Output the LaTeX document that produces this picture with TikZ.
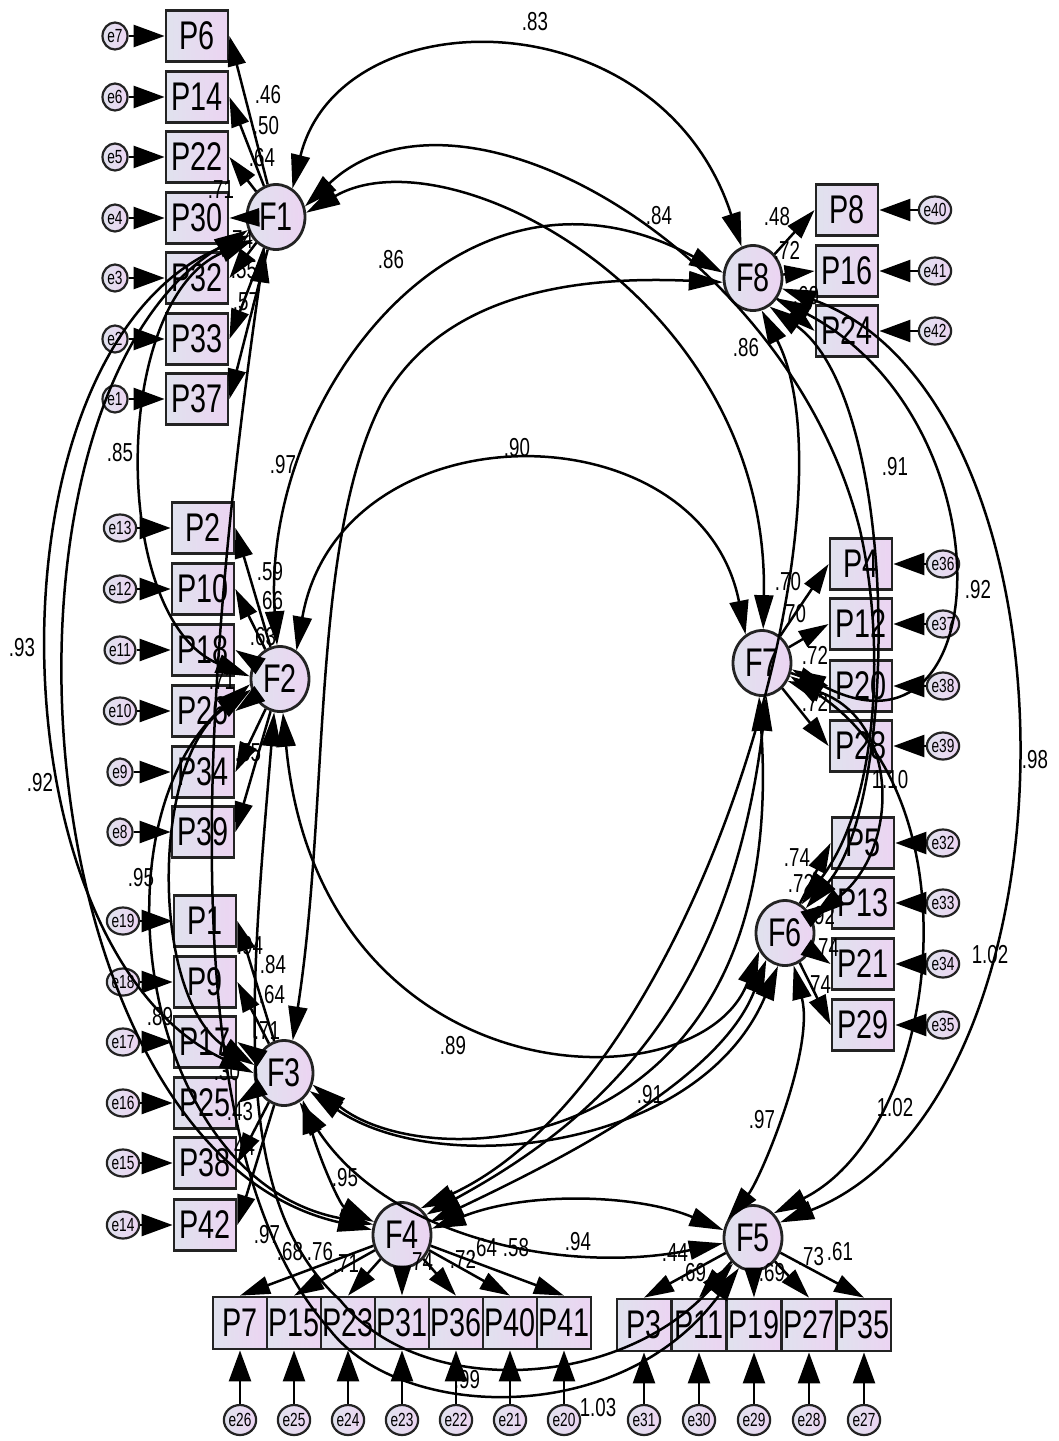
\documentclass[tikz,border=0pt]{standalone}
\usepackage{fontspec}
\usetikzlibrary{shapes.geometric,arrows.meta}
\newfontfamily\amos[FakeStretch=0.72]{Liberation Sans}
\definecolor{bL}{RGB}{224,226,238}
\definecolor{bR}{RGB}{236,212,242}
\definecolor{bd}{RGB}{35,35,35}
\tikzset{
 ind/.style={rectangle, draw=bd, line width=2.8pt, minimum width=62pt, minimum height=51pt, inner sep=0pt, left color=bL, right color=bR, font=\amos\fontsize{40}{40}\selectfont},
 indb/.style={ind, minimum width=54pt, minimum height=52pt},
 fac/.style={ellipse, draw=bd, line width=2.8pt, minimum width=58pt, minimum height=65pt, inner sep=0pt, left color=bL, right color=bR, font=\amos\fontsize{40}{40}\selectfont},
 err/.style={ellipse, draw=bd, line width=2.2pt, minimum width=25pt, minimum height=27pt, inner sep=0pt, left color=bL, right color=bR, font=\amos\fontsize{19}{19}\selectfont},
 errb/.style={err, minimum width=23pt, minimum height=30pt},
 lab/.style={font=\amos\fontsize{26}{26}\selectfont, inner sep=0pt},
 eline/.style={-{Triangle[length=31pt,width=22pt]}, line width=2.5pt},
 load/.style={-{Triangle[length=30pt,width=18pt]}, line width=2.5pt},
 cov/.style={{Triangle[length=34pt,width=19pt]}-{Triangle[length=34pt,width=19pt]}, line width=2.5pt},
}
\begin{document}
\begin{tikzpicture}[x=1pt,y=-1pt]
\fill[white] (0,0) rectangle (1059,1441);
\useasboundingbox (0,0) rectangle (1059,1441);

% factors
\node[fac] (F1) at (276,217) {F1};
\node[fac] (F2) at (280,679) {F2};
\node[fac] (F3) at (284,1073) {F3};
\node[fac] (F4) at (402,1235) {F4};
\node[fac] (F5) at (753,1238) {F5};
\node[fac] (F6) at (785,933) {F6};
\node[fac] (F7) at (762,663) {F7};
\node[fac] (F8) at (753,278) {F8};

% F1 indicators
\foreach \nm/\er/\yy in {P6/e7/36, P14/e6/97, P22/e5/157, P30/e4/218, P32/e3/278, P33/e2/339, P37/e1/399} {
  \node[ind] (\nm) at (197,\yy) {\nm};
  \node[err] (\er) at (115,\yy) {\er};
  \draw[eline] (\er) -- (\nm);
}
% F2 indicators
\foreach \nm/\er/\yy in {P2/e13/528, P10/e12/589, P18/e11/650, P26/e10/711, P34/e9/772, P39/e8/832} {
  \node[ind] (\nm) at (203,\yy) {\nm};
  \node[err] (\er) at (120,\yy) {\er};
  \draw[eline] (\er) -- (\nm);
}
% F3 indicators
\foreach \nm/\er/\yy in {P1/e19/921, P9/e18/982, P17/e17/1042, P25/e16/1103, P38/e15/1163, P42/e14/1225} {
  \node[ind] (\nm) at (205,\yy) {\nm};
  \node[err] (\er) at (123,\yy) {\er};
  \draw[eline] (\er) -- (\nm);
}
% F4 indicators
\foreach \nm/\er/\xx in {P7/e26/240, P15/e25/294, P23/e24/348, P31/e23/402, P36/e22/456, P40/e21/510, P41/e20/564} {
  \node[indb] (\nm) at (\xx,1323) {\nm};
  \node[errb] (\er) at (\xx,1420) {\er};
  \draw[eline] (\er) -- (\nm);
}
% F5 indicators
\foreach \nm/\er/\xx in {P3/e31/644, P11/e30/699, P19/e29/754, P27/e28/809, P35/e27/864} {
  \node[indb] (\nm) at (\xx,1325) {\nm};
  \node[errb] (\er) at (\xx,1420) {\er};
  \draw[eline] (\er) -- (\nm);
}
% F8 indicators
\foreach \nm/\er/\yy in {P8/e40/210, P16/e41/271, P24/e42/331} {
  \node[ind] (\nm) at (847,\yy) {\nm};
  \node[err] (\er) at (935,\yy) {\er};
  \draw[eline] (\er) -- (\nm);
}
% F7 indicators
\foreach \nm/\er/\yy in {P4/e36/564, P12/e37/624, P20/e38/686, P28/e39/746} {
  \node[ind] (\nm) at (861,\yy) {\nm};
  \node[err] (\er) at (943,\yy) {\er};
  \draw[eline] (\er) -- (\nm);
}
% F6 indicators
\foreach \nm/\er/\yy in {P5/e32/843, P13/e33/903, P21/e34/964, P29/e35/1025} {
  \node[ind] (\nm) at (863,\yy) {\nm};
  \node[err] (\er) at (943,\yy) {\er};
  \draw[eline] (\er) -- (\nm);
}

% loadings
\foreach \nm in {P6,P14,P22,P30,P32,P33,P37} \draw[load] (F1) -- (\nm.east);
\foreach \nm in {P2,P10,P18,P26,P34,P39} \draw[load] (F2) -- (\nm.east);
\foreach \nm in {P1,P9,P17,P25,P38,P42} \draw[load] (F3) -- (\nm.east);
\foreach \nm in {P7,P15,P23,P31,P36,P40,P41} \draw[load] (F4) -- (\nm.north);
\foreach \nm in {P3,P11,P19,P27,P35} \draw[load] (F5) -- (\nm.north);
\foreach \nm in {P8,P16,P24} \draw[load] (F8) -- (\nm.west);
\foreach \nm in {P4,P12,P20,P28} \draw[load] (F7) -- (\nm.west);
\foreach \nm in {P5,P13,P21,P29} \draw[load] (F6) -- (\nm.west);

% covariances
\draw[cov] (F1.60) .. controls (340,-5) and (660,-5) .. (F8.110);
\draw[cov] (F1.8) .. controls (450,130) and (770,300) .. (F7.88);
\draw[cov] (F1.20) .. controls (460,60) and (790,250) .. (860,530) .. controls (885,640) and (880,800) .. (F6.60);
\draw[cov] (F1.225) .. controls (110,300) and (110,620) .. (F2.175);
\draw[cov] (F1.215) .. controls (-20,350) and (-10,950) .. (F3.180);
\draw[cov] (F1.205) .. controls (-30,400) and (20,1150) .. (F4.170);
\draw[cov] (F1.250) .. controls (200,700) and (170,1150) .. (330,1330) .. controls (400,1420) and (620,1430) .. (F5.245);
\draw[cov] (F2.260) .. controls (250,1000) and (230,1200) .. (340,1300) .. controls (420,1400) and (620,1390) .. (F5.232);
\draw[cov] (F2.200) .. controls (150,760) and (150,1000) .. (F3.165);
\draw[cov] (F2.190) .. controls (90,820) and (140,1180) .. (F4.160);
\draw[cov] (F2.-85) .. controls (320,1100) and (700,1110) .. (F6.215);
\draw[cov] (F2.60) .. controls (340,405) and (700,405) .. (F7.120);
\draw[cov] (F2.95) .. controls (260,400) and (460,130) .. (F8.170);
\draw[cov] (F3.-55) .. controls (320,1160) and (340,1205) .. (F4.155);
\draw[cov] (F3.-62) .. controls (390,1240) and (570,1275) .. (F5.190);
\draw[cov] (F3.-35) .. controls (440,1180) and (700,1150) .. (F6.258);
\draw[cov] (F3.-22) .. controls (430,1180) and (790,1160) .. (F7.-95);
\draw[cov] (F3.75) .. controls (330,800) and (310,540) .. (383,400) .. controls (440,300) and (560,275) .. (F8.188);
\draw[cov] (F4.12) .. controls (530,1190) and (640,1195) .. (F5.165);
\draw[cov] (F4.25) .. controls (560,1160) and (720,1080) .. (F6.235);
\draw[cov] (F4.40) .. controls (600,1120) and (730,1000) .. (F7.-82);
\draw[cov] (F4.55) .. controls (700,1080) and (860,500) .. (F8.-75);
\draw[cov] (F6.-75) .. controls (815,1050) and (760,1180) .. (F5.145);
\draw[cov] (F7.-25) .. controls (980,800) and (940,1130) .. (F5.50);
\draw[cov] (F8.-20) .. controls (1090,400) and (1090,1100) .. (F5.30);
\draw[cov] (F7.-35) .. controls (900,720) and (900,850) .. (F6.30);
\draw[cov] (F8.-60) .. controls (900,400) and (900,800) .. (F6.50);
\draw[cov] (F8.-40) .. controls (1010,420) and (1000,780) .. (F7.-12);

% loading labels
\foreach \xx/\yy/\tt [count=\i] in {268/95/.46, 266/126/.50, 262/158/.64, 221/190/.71, 240/240/.74, 244/270/.55, 246/302/.57,
  270/572/.59, 270/601/.66, 263/637/.63, 222/681/.71, 248/753/.55,
  250/946/.94, 273/965/.84, 272/995/.64, 267/1031/.71, 227/1072/.30, 240/1112/.43, 242/1147/.44,
  290/1252/.68, 320/1252/.76, 346/1264/.71, 420/1262/.74, 463/1259/.72, 484/1248/.64, 516/1248/.58,
  675/1253/.44, 693/1273/.69, 772/1273/.69, 811/1257/.73, 840/1252/.61,
  797/858/.74, 801/883/.72, 822/916/.92, 826/948/.74, 818/985/.74,
  788/582/.70, 793/614/.70, 815/655/.72, 815/702/.72,
  777/217/.48, 787/250/.72, 806/296/.60}
  \node[lab] (ld\i) at (\xx,\yy) {\tt};

% covariance labels
\foreach \xx/\yy/\tt [count=\i] in {535/22/.83, 659/216/.84, 391/260/.86, 746/348/.86, 283/465/.97, 517/448/.90,
  120/453/.85, 22/648/.93, 40/783/.92, 141/878/.95, 160/1017/.89, 453/1046/.89, 650/1095/.91,
  762/1120/.97, 578/1242/.94, 345/1178/.95, 267/1235/.97, 467/1380/.99, 598/1408/1.03,
  895/467/.91, 978/590/.92, 1035/760/.98, 890/780/1.10, 895/1108/1.02, 990/955/1.02}
  \node[lab] (cv\i) at (\xx,\yy) {\tt};
\end{tikzpicture}
\end{document}
